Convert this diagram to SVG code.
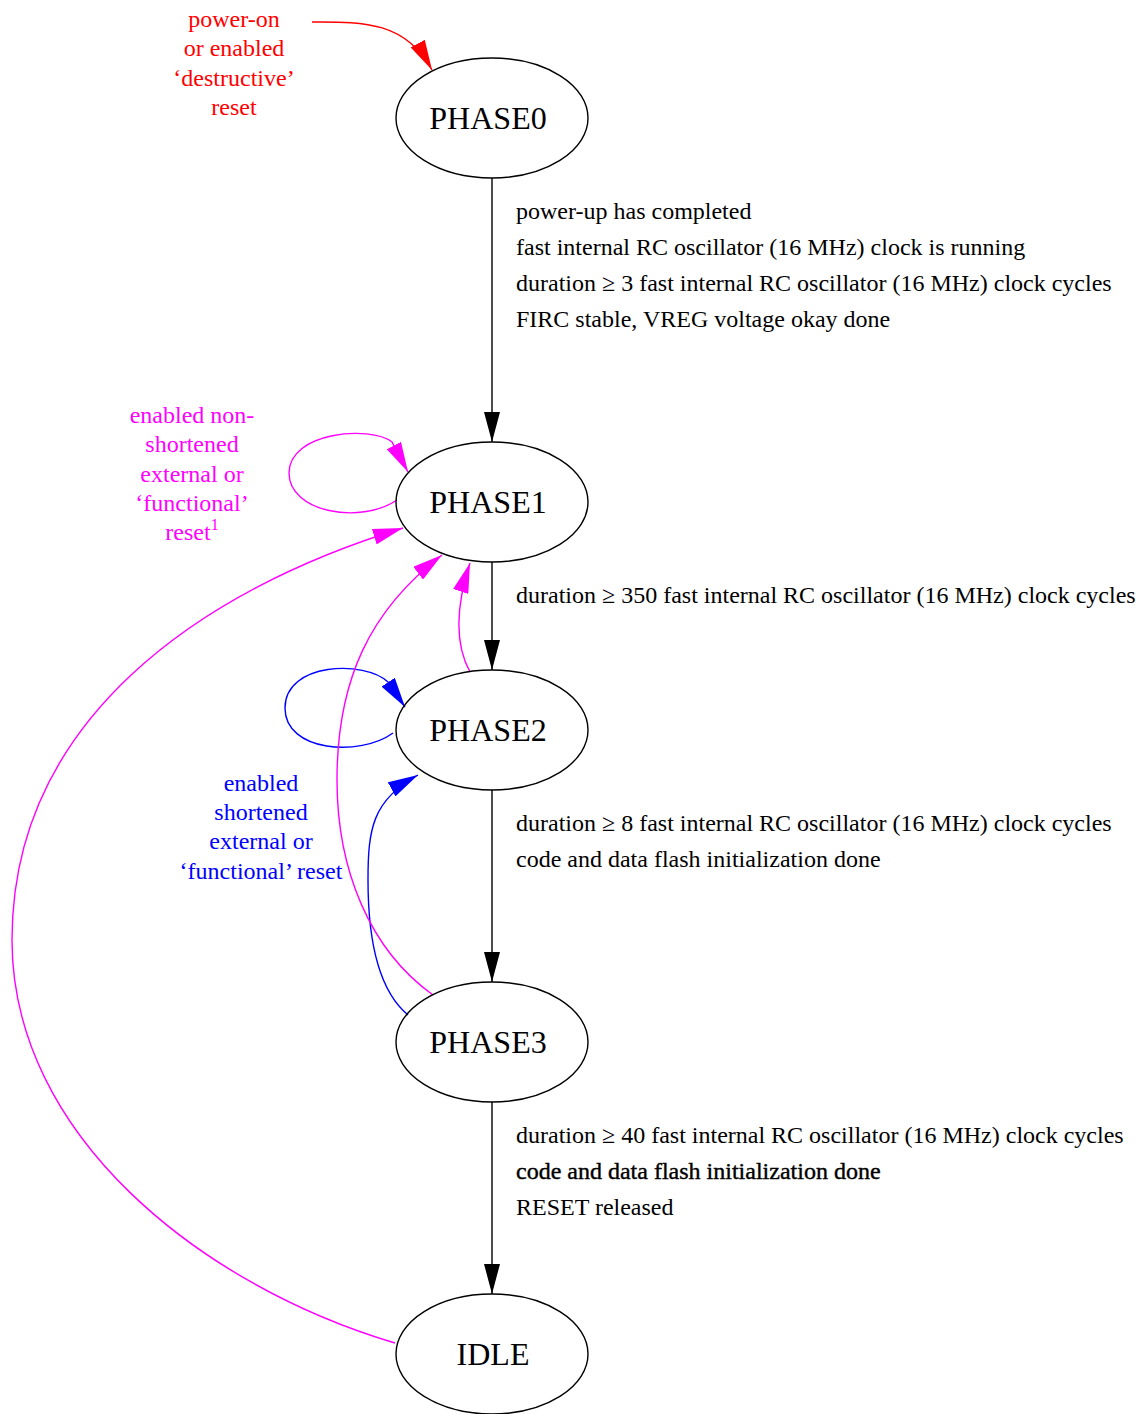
<svg xmlns="http://www.w3.org/2000/svg" width="1143" height="1414" viewBox="0 0 1143 1414">
<style>
text{font-family:"Liberation Serif","Times New Roman",serif}
.node ellipse{fill:none;stroke:#000;stroke-width:1.4}
.node text{font-size:32px;text-anchor:middle;fill:#000}
.lbl{font-size:24px}
.c{text-anchor:middle}
.e{fill:none;stroke-width:1.4}
</style>
<defs>
<marker id="ak" viewBox="0 0 30 16" refX="30" refY="8" markerWidth="30" markerHeight="16" markerUnits="userSpaceOnUse" orient="auto"><path d="M0,0L30,8L0,16z" fill="#000"/></marker>
<marker id="ar" viewBox="0 0 30 16" refX="30" refY="8" markerWidth="30" markerHeight="16" markerUnits="userSpaceOnUse" orient="auto"><path d="M0,0L30,8L0,16z" fill="#f00"/></marker>
<marker id="am" viewBox="0 0 30 16" refX="30" refY="8" markerWidth="30" markerHeight="16" markerUnits="userSpaceOnUse" orient="auto"><path d="M0,0L30,8L0,16z" fill="#f0f"/></marker>
<marker id="ab" viewBox="0 0 30 16" refX="30" refY="8" markerWidth="30" markerHeight="16" markerUnits="userSpaceOnUse" orient="auto"><path d="M0,0L30,8L0,16z" fill="#00f"/></marker>
</defs>
<rect width="1143" height="1414" fill="#fff"/>
<g id="connectors">
<path class="e" stroke="#f00" marker-end="url(#ar)" d="M312,22 C360,22 405,20 432,70"/>
<path class="e" stroke="#000" marker-end="url(#ak)" d="M492,178 L492,442"/>
<path class="e" stroke="#f0f" marker-end="url(#am)" d="M397,500 C360,525 289,512 289,473 C289,432 370,425 392,442 L408,472"/>
<path class="e" stroke="#000" marker-end="url(#ak)" d="M492,562 L492,670"/>
<path class="e" stroke="#f0f" marker-end="url(#am)" d="M470,672 C458,650 453,615 470,563"/>
<path class="e" stroke="#00f" marker-end="url(#ab)" d="M393,733 C360,757 285,752 285,708 C285,662 365,660 388,682 L405,707"/>
<path class="e" stroke="#000" marker-end="url(#ak)" d="M492,790 L492,982"/>
<path class="e" stroke="#00f" marker-end="url(#ab)" d="M408,1015 C378,990 368,940 368,880 C368,830 372,800 418,775"/>
<path class="e" stroke="#f0f" marker-end="url(#am)" d="M433,995 C370,950 337,870 337,780 C337,680 370,610 442,555"/>
<path class="e" stroke="#000" marker-end="url(#ak)" d="M492,1102 L492,1294"/>
<path class="e" stroke="#f0f" marker-end="url(#am)" d="M395,1343 C200,1285 12,1135 12,940 C12,720 200,590 403,528"/>
</g>
<g id="PHASE0" class="node"><ellipse cx="492" cy="118" rx="96" ry="60"/><text x="488" y="129">PHASE0</text></g>
<g id="PHASE1" class="node"><ellipse cx="492" cy="502" rx="96" ry="60"/><text x="488" y="513">PHASE1</text></g>
<g id="PHASE2" class="node"><ellipse cx="492" cy="730" rx="96" ry="60"/><text x="488" y="741">PHASE2</text></g>
<g id="PHASE3" class="node"><ellipse cx="492" cy="1042" rx="96" ry="60"/><text x="488" y="1053">PHASE3</text></g>
<g id="IDLE" class="node"><ellipse cx="492" cy="1354" rx="96" ry="60"/><text x="493" y="1365">IDLE</text></g>
<g id="labels">
<text class="lbl c" fill="#f00"><tspan x="234" y="27">power-on</tspan><tspan x="234" y="56">or enabled</tspan><tspan x="234" y="86">‘destructive’</tspan><tspan x="234" y="115">reset</tspan></text>
<text class="lbl c" fill="#f0f"><tspan x="192" y="423">enabled non-</tspan><tspan x="192" y="452">shortened</tspan><tspan x="192" y="482">external or</tspan><tspan x="192" y="511">‘functional’</tspan><tspan x="192" y="540">reset</tspan><tspan dy="-10" font-size="16">1</tspan></text>
<text class="lbl c" fill="#00f"><tspan x="261" y="791">enabled</tspan><tspan x="261" y="820">shortened</tspan><tspan x="261" y="849">external or</tspan><tspan x="261" y="879">‘functional’ reset</tspan></text>
<text class="lbl" fill="#000"><tspan x="516" y="219">power-up has completed</tspan><tspan x="516" y="255">fast internal RC oscillator (16 MHz) clock is running</tspan><tspan x="516" y="291">duration ≥ 3 fast internal RC oscillator (16 MHz) clock cycles</tspan><tspan x="516" y="327">FIRC stable, VREG voltage okay done</tspan></text>
<text class="lbl" fill="#000" x="516" y="603">duration ≥ 350 fast internal RC oscillator (16 MHz) clock cycles</text>
<text class="lbl" fill="#000"><tspan x="516" y="831">duration ≥ 8 fast internal RC oscillator (16 MHz) clock cycles</tspan><tspan x="516" y="867">code and data flash initialization done</tspan></text>
<text class="lbl" fill="#000"><tspan x="516" y="1143">duration ≥ 40 fast internal RC oscillator (16 MHz) clock cycles</tspan><tspan x="516" y="1179" stroke="#000" stroke-width="0.4">code and data flash initialization done</tspan><tspan x="516" y="1215">RESET released</tspan></text>
</g>
</svg>
